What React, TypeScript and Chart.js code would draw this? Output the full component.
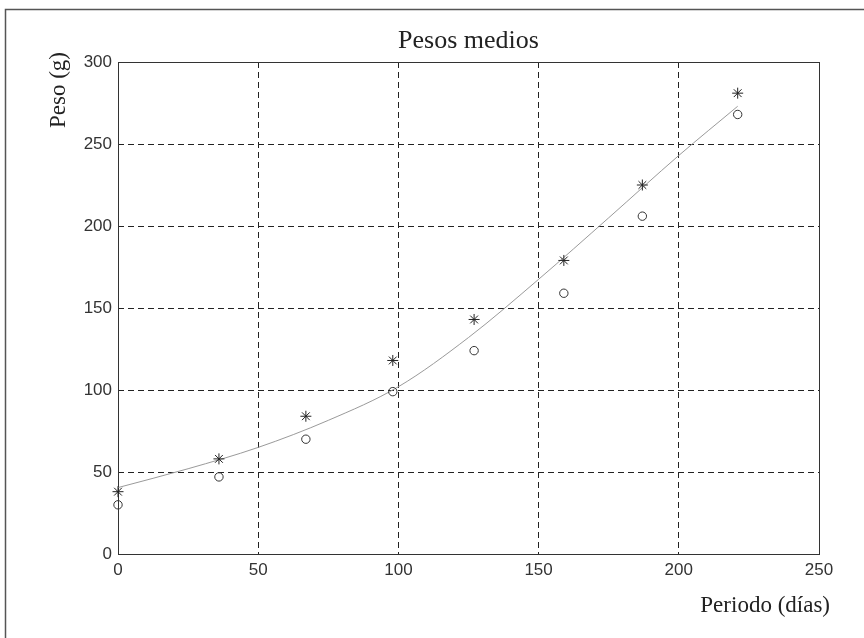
import React, { useEffect, useRef } from "react";
import { Chart, registerables } from "chart.js";

Chart.register(...registerables);

// Sampling days and the two measured weight series
const days = [0, 36, 67, 98, 127, 159, 187, 221];
const pesosAsterisco = [38, 58, 84, 118, 143, 179, 225, 281];
const pesosCirculo = [30, 47, 70, 99, 124, 159, 206, 268];

// Fitted trend curve, sampled along the period
const curvaDias = [0, 25, 50, 75, 100, 125, 150, 175, 200, 221];
const curvaPeso = [40.5, 52, 65, 81.5, 102, 132, 167.5, 205, 243, 273];

// Axis ticks
const xTicks = [0, 50, 100, 150, 200, 250];
const yTicks = [0, 50, 100, 150, 200, 250, 300];

const titulo = "Pesos medios";
const etiquetaX = "Periodo (días)";
const etiquetaY = "Peso (g)";

const W = 864;
const H = 638;

const decor = {
  id: "decor",
  beforeDraw(chart: any) {
    const { ctx } = chart;
    ctx.save();
    ctx.fillStyle = "#ffffff";
    ctx.fillRect(0, 0, W, H);
    // figure frame (left and top edges)
    ctx.strokeStyle = "#555";
    ctx.lineWidth = 1.5;
    ctx.beginPath();
    ctx.moveTo(5.5, H + 2);
    ctx.lineTo(5.5, 9.5);
    ctx.lineTo(W + 2, 9.5);
    ctx.stroke();
    ctx.restore();
  },
  beforeDatasetsDraw(chart: any) {
    const { ctx, chartArea: a } = chart;
    ctx.save();
    // plot box
    ctx.strokeStyle = "#333";
    ctx.lineWidth = 1;
    ctx.setLineDash([]);
    ctx.strokeRect(Math.round(a.left) + 0.5, Math.round(a.top) + 0.5, Math.round(a.right - a.left), Math.round(a.bottom - a.top));
    ctx.restore();
  },
  afterDraw(chart: any) {
    const { ctx, chartArea: a } = chart;
    ctx.save();
    // title
    ctx.fillStyle = "#222";
    ctx.font = "26px 'Liberation Serif', serif";
    ctx.textAlign = "center";
    ctx.textBaseline = "alphabetic";
    ctx.fillText(titulo, (a.left + a.right) / 2, 48);
    // x label
    ctx.font = "23px 'Liberation Serif', serif";
    ctx.textAlign = "right";
    ctx.fillText(etiquetaX, a.right + 11, 612);
    // y label
    ctx.translate(65, 90);
    ctx.rotate(-Math.PI / 2);
    ctx.textAlign = "center";
    ctx.fillText(etiquetaY, 0, 0);
    ctx.restore();
  },
};

export default function App() {
  const ref = useRef<HTMLCanvasElement | null>(null);

  useEffect(() => {
    if (!ref.current) return;
    const tickFont = { family: "'Liberation Sans', Arial, sans-serif", size: 17 };
    const chart = new Chart(ref.current, {
      type: "scatter",
      data: {
        datasets: [
          {
            label: "ajuste",
            data: curvaDias.map((d, i) => ({ x: d, y: curvaPeso[i] })),
            showLine: true,
            borderColor: "#9a9a9a",
            borderWidth: 1,
            pointRadius: 0,
            cubicInterpolationMode: "monotone",
            order: 3,
          } as any,
          {
            label: "asterisco",
            data: days.map((d, i) => ({ x: d, y: pesosAsterisco[i] })),
            showLine: false,
            pointStyle: "star",
            pointRadius: 5.5,
            borderColor: "#222",
            backgroundColor: "#222",
            pointBorderWidth: 1,
            clip: false,
            order: 1,
          } as any,
          {
            label: "circulo",
            data: days.map((d, i) => ({ x: d, y: pesosCirculo[i] })),
            showLine: false,
            pointStyle: "circle",
            pointRadius: 4.2,
            borderColor: "#333",
            backgroundColor: "rgba(0,0,0,0)",
            pointBorderWidth: 1,
            clip: false,
            order: 2,
          } as any,
        ],
      },
      options: {
        responsive: false,
        animation: false,
        events: [],
        layout: { padding: { top: 62, right: 45, left: 0, bottom: 0 } },
        plugins: { legend: { display: false }, tooltip: { enabled: false }, title: { display: false } },
        scales: {
          x: {
            type: "linear",
            min: 0,
            max: 250,
            afterBuildTicks: (s: any) => {
              s.ticks = xTicks.map((v) => ({ value: v }));
            },
            afterFit: (s: any) => {
              s.height = 84;
            },
            ticks: { font: tickFont, color: "#333", padding: 6, maxRotation: 0 },
            grid: { color: "#222", lineWidth: 1, drawTicks: false },
            border: { display: false, dash: [6, 4] },
          },
          y: {
            type: "linear",
            min: 0,
            max: 300,
            afterBuildTicks: (s: any) => {
              s.ticks = yTicks.map((v) => ({ value: v }));
            },
            afterFit: (s: any) => {
              s.width = 118;
            },
            ticks: { font: tickFont, color: "#333", padding: 6 },
            grid: { color: "#222", lineWidth: 1, drawTicks: false },
            border: { display: false, dash: [6, 4] },
          },
        },
      },
      plugins: [decor],
    });
    return () => chart.destroy();
  }, []);

  return (
    <div style={{ position: "fixed", left: 0, top: 0, width: W, height: H, background: "#fff" }}>
      <canvas ref={ref} width={W} height={H} style={{ width: W, height: H, display: "block" }} />
    </div>
  );
}
